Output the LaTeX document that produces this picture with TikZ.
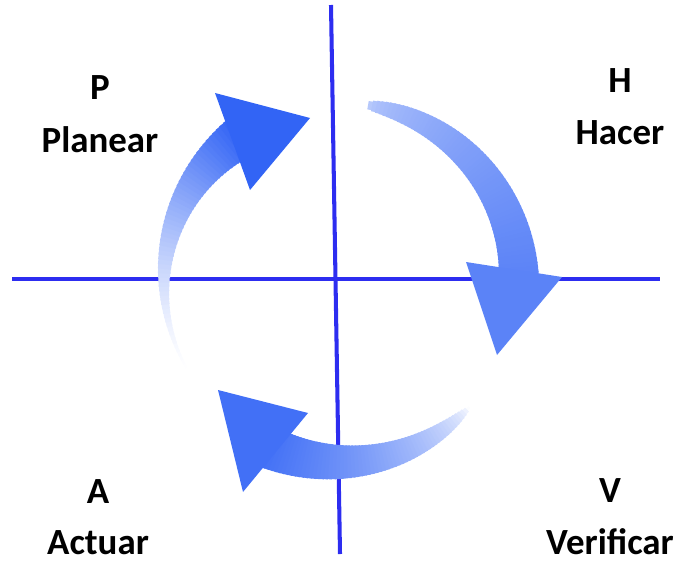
\documentclass[tikz,border=0pt]{standalone}
\usepackage{fontspec}
\setmainfont{Carlito}
\usepackage{tikz}
\usetikzlibrary{positioning, calc}
\definecolor{AxisBlue}{RGB}{45, 45, 240}
\definecolor{CycleBlue}{RGB}{50, 100, 245}

% tapered arc: angles, radius, widths (px), tints, colour, growth
\newcommand{\cyclearc}[9]{%
  \foreach \i in {0,...,59}{%
    \pgfmathsetmacro{\arcT}{pow(\i/60+0.001,#9)}
    \pgfmathsetmacro{\arcA}{#1+(#2-#1)*\i/60}
    \pgfmathsetmacro{\arcB}{#1+(#2-#1)*min(\i+1.4,60)/60}
    \pgfmathsetmacro{\arcW}{(#4+(#5-#4)*\arcT)*0.569}
    \pgfmathsetmacro{\arcK}{min(#6+(#7-#6)*\arcT,100)}
    \draw[line width=\arcW pt, draw=#8!\arcK!white]
      ($(ctr)+(\arcA:#3)$) arc[start angle=\arcA, end angle=\arcB, radius=#3];
  }%
}

\begin{document}
\begin{tikzpicture}[
    x=0.02cm, y=0.02cm,
    axis/.style={draw=AxisBlue, line width=2.3pt},
    letter/.style={font=\fontsize{21}{25}\selectfont\bfseries, inner sep=0pt, anchor=base},
    stage/.style={font=\fontsize{21}{25}\selectfont\bfseries, inner sep=0pt},
    head/.style={fill=CycleBlue}
]
\useasboundingbox (0,0) rectangle (685,562);

% --- Axes ---------------------------------------------------------------
\coordinate (ctr)    at (340,280);
\coordinate (top)    at (331,557);
\coordinate (bottom) at (340,8);
\coordinate (left)   at (12,283);
\coordinate (right)  at (660,283);
\draw[axis] (top)  -- (bottom);
\draw[axis] (left) -- (right);

% --- Cycle arrows -------------------------------------------------------
\cyclearc{212}{125}{176}{2}{44}{0}{100}{CycleBlue}{1.5}
\fill[head] (215,469) -- (310,444) -- (250,372) -- cycle;

\cyclearc{81}{2}{179}{8}{40}{35}{80}{CycleBlue}{0.6}
\fill[head, fill=CycleBlue!80!white] (466,300) -- (562,285) -- (497,207) -- cycle;

\cyclearc{-44}{-113}{180}{2}{43}{0}{92}{CycleBlue}{0.6}
\fill[head, fill=CycleBlue!92!white] (308,149) -- (243,70) -- (218,172) -- cycle;

% --- Labels -------------------------------------------------------------
\node[letter] (p) at (100,462) {P};
\node[stage, below=1.06cm of p.base, anchor=base] (planear) {Planear};
\node[letter] (h) at (620,469) {H};
\node[stage, below=1.04cm of h.base, anchor=base] (hacer) {Hacer};
\node[letter] (a) at (98,59) {A};
\node[stage, below=1.04cm of a.base, anchor=base] (actuar) {Actuar};
\node[letter] (v) at (610,60) {V};
\node[stage, below=1.06cm of v.base, anchor=base] (verificar) {Verificar};

\end{tikzpicture}
\end{document}
